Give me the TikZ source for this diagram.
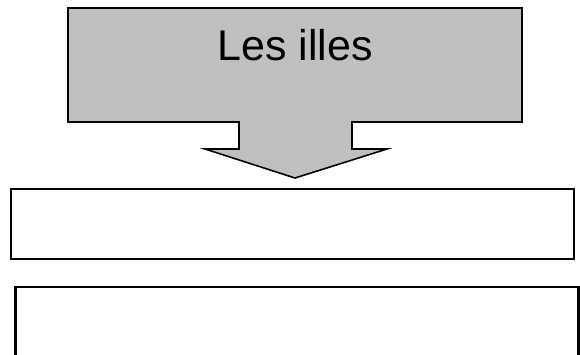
\documentclass[tikz,border=0pt]{standalone}
\usepackage{fontspec}
\setmainfont{Liberation Sans}
\usepackage{tikz}
\usetikzlibrary{positioning}

\definecolor{calloutgray}{RGB}{192,192,192}

\tikzset{
  callout/.style={draw=black, fill=calloutgray, line width=1.6pt, line join=miter},
  emptybox/.style={draw=black, fill=white, line width=2.6pt, rectangle, inner sep=0pt},
}

\begin{document}
\begin{tikzpicture}[x=1pt, y=-1pt]
  \useasboundingbox (0,0) rectangle (580,354);
  \clip (0,0) rectangle (580,354);

  % down arrow callout
  \draw[callout] (68,8) -- (522,8) -- (522,122) -- (352,122) -- (352,149)
    -- (387,149) -- (295,178) -- (205,149) -- (239,149) -- (239,122)
    -- (68,122) -- cycle;
  \node[anchor=base, inner sep=0pt] (title) at (295,60)
    {\fontsize{43}{50}\selectfont Les illes};

  % the two empty boxes
  \node[emptybox, minimum width=563pt, minimum height=70pt] (box1) at (292.5,224) {};
  \node[emptybox, minimum width=562.5pt, minimum height=90pt] (box2) at (297,332) {};
\end{tikzpicture}
\end{document}
